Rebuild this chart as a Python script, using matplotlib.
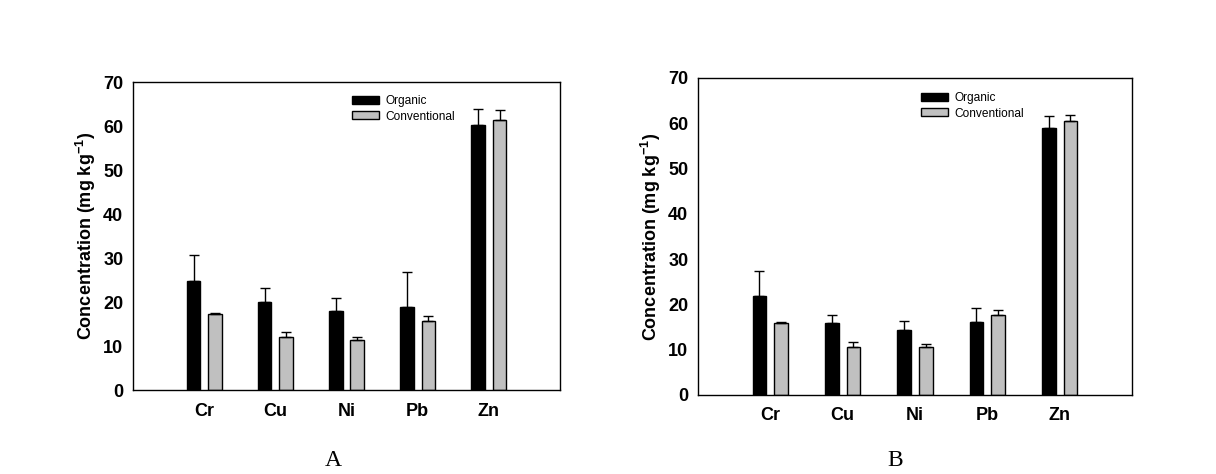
import matplotlib
matplotlib.use("Agg")
from matplotlib import pyplot as plt
from matplotlib.patches import Patch
import numpy as np

metals = ["Cr", "Cu", "Ni", "Pb", "Zn"]

# panel A
organic_a = [24.8, 20.0, 18.0, 18.9, 60.3]
organic_a_err = [5.8, 3.1, 2.9, 7.9, 3.5]
conv_a = [17.3, 12.0, 11.4, 15.7, 61.3]
conv_a_err = [0.15, 1.1, 0.6, 1.05, 2.3]

# panel B
organic_b = [21.9, 15.9, 14.4, 16.1, 59.0]
organic_b_err = [5.4, 1.7, 1.9, 3.1, 2.5]
conv_b = [15.9, 10.6, 10.6, 17.6, 60.6]
conv_b_err = [0.15, 1.0, 0.6, 1.1, 1.2]

plt.rcParams['font.family'] = ['Liberation Sans', 'DejaVu Sans']
plt.rcParams['mathtext.fontset'] = 'custom'
plt.rcParams['mathtext.rm'] = 'Liberation Sans'
plt.rcParams['mathtext.bf'] = 'Liberation Sans:bold'


def draw_panel(ax, org, org_err, conv, conv_err, legend_x, legend_y):
    x = np.arange(1, len(metals) + 1)
    w = 0.19
    off = 0.15
    ax.bar(x - off, org, w, color='black', edgecolor='black', linewidth=1,
           yerr=[np.zeros(len(org)), org_err], capsize=3.3,
           error_kw=dict(ecolor='black', elinewidth=1, capthick=1))
    ax.bar(x + off, conv, w, color='#c0c0c0', edgecolor='black', linewidth=1,
           yerr=[np.zeros(len(conv)), conv_err], capsize=3.3,
           error_kw=dict(ecolor='black', elinewidth=1, capthick=1))
    ax.set_xlim(0, 6)
    ax.set_ylim(0, 70)
    ax.set_xticks(x)
    ax.set_xticklabels(metals, fontweight='bold', fontsize=13)
    ax.set_yticks(range(0, 71, 10))
    ax.tick_params(axis='y', length=0, pad=7, labelsize=13)
    ax.tick_params(axis='x', length=0, pad=9)
    for lab in ax.get_yticklabels():
        lab.set_fontweight('bold')
    for s in ax.spines.values():
        s.set_linewidth(1)
    ax.set_ylabel("Concentration (mg kg$^{\\mathbf{-1}}$)", fontsize=13,
                  fontweight='bold', labelpad=4)
    handles = [Patch(facecolor='black', edgecolor='black', linewidth=1),
               Patch(facecolor='#c0c0c0', edgecolor='black', linewidth=1)]
    ax.legend(handles, ["Organic", "Conventional"], loc='upper left',
              bbox_to_anchor=(legend_x, legend_y), frameon=False, fontsize=8.6,
              borderpad=0, borderaxespad=0, handlelength=2.25, handleheight=0.65,
              handletextpad=0.55, labelspacing=0.3)


fig = plt.figure(figsize=(12.16, 4.74), dpi=100)
ax1 = fig.add_axes([0.1094, 0.1772, 0.3512, 0.6498])
ax2 = fig.add_axes([0.574, 0.1667, 0.3569, 0.6688])

draw_panel(ax1, organic_a, organic_a_err, conv_a, conv_a_err, 0.513, 0.958)
draw_panel(ax2, organic_b, organic_b_err, conv_b, conv_b_err, 0.514, 0.956)

fig.text(333 / 1216, 1 - 461 / 474, "A", family='Liberation Serif', fontsize=17,
         ha='center', va='center')
fig.text(895 / 1216, 1 - 461 / 474, "B", family='Liberation Serif', fontsize=17,
         ha='center', va='center')

plt.savefig("out.png", dpi=100)
